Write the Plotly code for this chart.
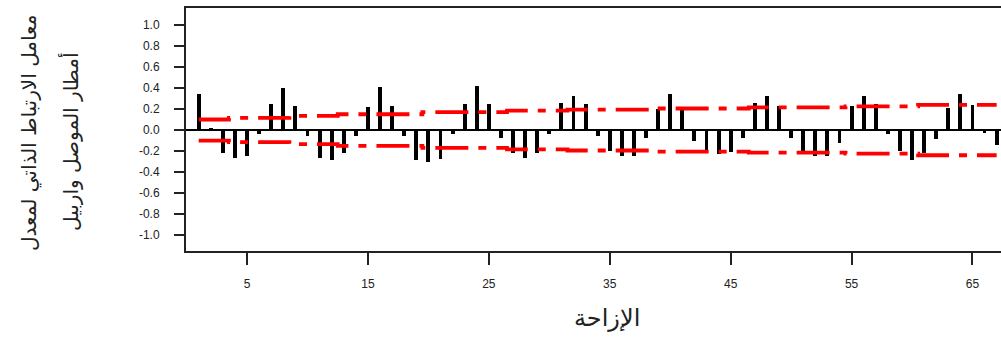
import plotly.graph_objects as go

# Autocorrelation coefficients for lags 1..67
lags = list(range(1, 68))
acf = [
    0.34, 0.02, -0.22, -0.27, -0.25, -0.04, 0.25, 0.40, 0.23, -0.06,
    -0.27, -0.29, -0.22, -0.06, 0.22, 0.41, 0.23, -0.06, -0.29, -0.30,
    -0.28, -0.04, 0.25, 0.42, 0.25, -0.08, -0.22, -0.27, -0.22, -0.04,
    0.26, 0.32, 0.25, -0.06, -0.20, -0.25, -0.25, -0.08, 0.20, 0.34,
    0.20, -0.10, -0.19, -0.23, -0.21, -0.08, 0.26, 0.32, 0.23, -0.08,
    -0.21, -0.25, -0.25, -0.12, 0.23, 0.32, 0.25, -0.04, -0.20, -0.29,
    -0.22, -0.09, 0.21, 0.34, 0.24, -0.03, -0.14,
]

# Confidence limit half-width at each lag (drawn as +/-)
conf_limit = (
    [0.10] * 3 + [0.115] * 5 + [0.135] * 4 + [0.15] * 7 + [0.17] * 7
    + [0.185] * 5 + [0.195] * 7 + [0.205] * 8 + [0.215] * 8
    + [0.225] * 6 + [0.24] * 7
)

y_tick_vals = [1.0, 0.8, 0.6, 0.4, 0.2, 0.0, -0.2, -0.4, -0.6, -0.8, -1.0]
y_tick_text = ["1.0", "0.8", "0.6", "0.4", "0.2", "0.0", "-0.2", "-0.4", "-0.6", "-0.8", "-1.0"]
x_tick_vals = [5, 15, 25, 35, 45, 55, 65]

x_title = "الإزاحة"
y_title_1 = "معامل الارتباط الذاتي لمعدل"
y_title_2 = "أمطار الموصل واربيل"

tick_font = dict(family="Liberation Sans Narrow, Liberation Sans, Arial", size=12, color="#222")
arabic_font = "DejaVu Sans, Noto Sans, sans-serif"

fig = go.Figure()

fig.add_trace(go.Bar(
    x=lags, y=acf, width=0.32,
    marker=dict(color="black", line=dict(width=0)),
    showlegend=False,
))

limit_dash = "33px,10px,8px,10px"
fig.add_trace(go.Scatter(
    x=lags, y=conf_limit, mode="lines", line_shape="hvh",
    line=dict(color="#ff0000", width=3.8, dash=limit_dash),
    showlegend=False,
))
fig.add_trace(go.Scatter(
    x=lags, y=[-v for v in conf_limit], mode="lines", line_shape="hvh",
    line=dict(color="#ff0000", width=3.8, dash=limit_dash),
    showlegend=False,
))

fig.update_layout(
    width=1001, height=338,
    margin=dict(l=186, r=0, t=8, b=87),
    paper_bgcolor="white", plot_bgcolor="white",
    bargap=0,
    xaxis=dict(
        range=[-0.05, 67.36], tickmode="array", tickvals=x_tick_vals,
        ticks="outside", ticklen=12, tickwidth=2, tickcolor="#222",
        ticklabelstandoff=9,
        showline=True, linewidth=2, linecolor="#222", mirror=True,
        showgrid=False, zeroline=False, tickfont=tick_font,
    ),
    yaxis=dict(
        range=[-1.152, 1.162], tickmode="array", tickvals=y_tick_vals, ticktext=y_tick_text,
        ticks="outside", ticklen=10, tickwidth=2, tickcolor="#222",
        ticklabelstandoff=12,
        showline=True, linewidth=2, linecolor="#222",
        showgrid=False, zeroline=True, zerolinecolor="black", zerolinewidth=2,
        tickfont=tick_font,
    ),
    annotations=[
        dict(text=x_title, xref="paper", yref="paper", x=(607 - 186) / 815, y=-(318 - 251) / 243,
             showarrow=False, xanchor="center", yanchor="middle",
             font=dict(family=arabic_font, size=24, color="#222")),
        dict(text=y_title_1, xref="paper", yref="paper", x=-(186 - 29) / 815, y=(251 - 133) / 243,
             textangle=-90, showarrow=False, xanchor="center", yanchor="middle",
             font=dict(family=arabic_font, size=20, color="#222")),
        dict(text=y_title_2, xref="paper", yref="paper", x=-(186 - 71) / 815, y=(251 - 142) / 243,
             textangle=-90, showarrow=False, xanchor="center", yanchor="middle",
             font=dict(family=arabic_font, size=20, color="#222")),
    ],
)

fig.write_html("out.html")
